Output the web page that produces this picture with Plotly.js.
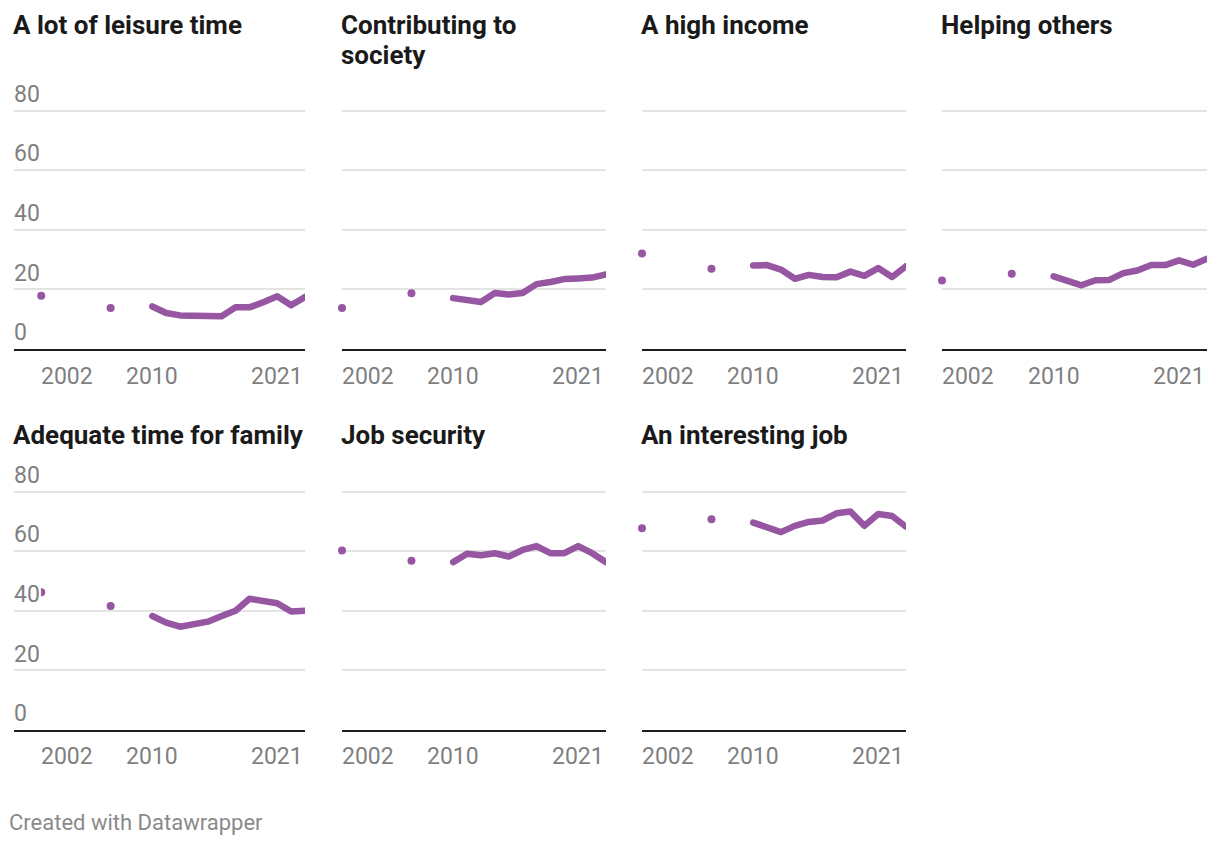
<!DOCTYPE html>
<html><head><meta charset="utf-8">
<script src="https://cdn.plot.ly/plotly-3.0.1.min.js"></script>
<style>
html,body{margin:0;padding:0;background:#fff}
#chart{width:1220px;height:846px}
.js-line{stroke-linecap:round!important;stroke-linejoin:round!important}
</style>
</head><body><div id="chart"></div>
<script>
// ---- data ----
const titles = ["A lot of leisure time", "Contributing to<br>society", "A high income", "Helping others",
                "Adequate time for family", "Job security", "An interesting job"];
const dotYears = [2002, 2007];
const lineYears = [2010, 2011, 2012, 2013, 2014, 2015, 2016, 2017, 2018, 2019, 2020, 2021];
const leisureDots = [17.9, 13.8];
const leisureLine = [14.3, 12.1, 11.3, 11.3, 11.0, 11.0, 14.0, 14.0, 15.7, 17.7, 14.7, 17.5];
const societyDots = [13.8, 18.7];
const societyLine = [17.1, 16.6, 15.8, 18.8, 18.3, 18.8, 21.8, 22.5, 23.5, 23.7, 24.0, 25.1];
const incomeDots = [32.1, 27.0];
const incomeLine = [28.1, 28.2, 26.7, 23.6, 24.9, 24.2, 24.1, 26.0, 24.6, 27.2, 24.2, 27.8];
const helpingDots = [23.0, 25.3];
const helpingLine = [24.4, 22.7, 21.4, 23.1, 23.2, 25.5, 26.4, 28.2, 28.2, 29.8, 28.3, 30.3];
const familyDots = [46.3, 41.7];
const familyLine = [38.3, 36.1, 34.7, 35.3, 36.4, 38.3, 40.1, 44.1, 43.5, 42.6, 39.8, 40.1];
const securityDots = [60.3, 56.9];
const securityLine = [56.4, 59.2, 58.7, 59.4, 58.3, 60.5, 61.8, 59.4, 59.4, 61.8, 59.4, 56.4];
const interestingDots = [67.8, 70.8];
const interestingLine = [69.7, 68.1, 66.5, 68.6, 69.9, 70.4, 72.8, 73.4, 68.6, 72.6, 71.9, 68.3];
const xTickVals = [2002, 2010, 2021];
const xTickText = ["2002", "2010", "2021"];
const yTickVals = [0, 20, 40, 60, 80];
const yTickText = ["0", "20", "40", "60", "80"];
const footer = "Created with Datawrapper";

const dotSeries = [leisureDots, societyDots, incomeDots, helpingDots, familyDots, securityDots, interestingDots];
const lineSeries = [leisureLine, societyLine, incomeLine, helpingLine, familyLine, securityLine, interestingLine];

// ---- layout ----
const W = 1220, H = 846;
const PURPLE = "#9656a1";
const colPx = [[14, 305], [342, 606], [642, 906], [942, 1207]];
const YMAX = 94;
const PXU = 2.976;              // pixels per unit on the value axis
const rowBottom = [349, 730];
const titleTop = [8, 418];
const titleLineGap = 30;
const labelShift = [-28, -27];
const FONT = "Roboto, 'Noto Sans', sans-serif";
const HALO = "-2px -2px 0 #fff, 2px -2px 0 #fff, -2px 2px 0 #fff, 2px 2px 0 #fff, 0 2px 0 #fff, 0 -2px 0 #fff, 2px 0 0 #fff, -2px 0 0 #fff";

const traces = [];
const layout = {
  width: W, height: H,
  margin: {l: 0, r: 0, t: 0, b: 0},
  paper_bgcolor: "#fff", plot_bgcolor: "rgba(0,0,0,0)",
  showlegend: false,
  font: {family: FONT},
  annotations: []
};

titles.forEach((t, i) => {
  const n = i + 1;
  const row = i < 4 ? 0 : 1;
  const col = i < 4 ? i : i - 4;
  const xa = "x" + n, ya = "y" + n;
  const [x0, x1] = colPx[col];
  const yb = rowBottom[row], yt = yb - YMAX * PXU;
  layout["xaxis" + n] = {
    domain: [x0 / W, x1 / W],
    range: col === 0 ? [2000.04, 2021] : [2002, 2021],
    anchor: ya, showgrid: false, zeroline: false,
    showline: true, linecolor: "#1d1d1d", linewidth: 2,
    ticks: "", showticklabels: false, fixedrange: true
  };
  layout["yaxis" + n] = {
    domain: [1 - yb / H, 1 - yt / H],
    range: [0, YMAX], anchor: xa,
    tickmode: "array", tickvals: yTickVals, ticktext: yTickText,
    showgrid: true, gridcolor: "#e3e3e3", gridwidth: 2,
    zeroline: false, showline: false, ticks: "",
    showticklabels: col === 0,
    ticklabelposition: "inside", ticklabelshift: -17, ticklabelstandoff: -3,
    tickfont: {family: FONT, size: 23, color: "#7f7f7f", shadow: HALO},
    fixedrange: true
  };
  traces.push({
    type: "scatter", mode: "lines", x: lineYears, y: lineSeries[i],
    xaxis: xa, yaxis: ya, line: {color: PURPLE, width: 6.5}, hoverinfo: "skip"
  });
  traces.push({
    type: "scatter", mode: "markers", x: dotYears, y: dotSeries[i],
    xaxis: xa, yaxis: ya, marker: {color: PURPLE, size: 8}, cliponaxis: false, hoverinfo: "skip"
  });
  // panel title (lines stacked with Datawrapper-like line spacing)
  t.split("<br>").forEach((ln, k) => {
    layout.annotations.push({
      text: "<b>" + ln + "</b>", xref: "paper", yref: "paper",
      x: (x0 - 3) / W, y: 1 - (titleTop[row] + k * titleLineGap) / H, xanchor: "left", yanchor: "top",
      align: "left", showarrow: false,
      font: {family: FONT, size: 26, color: "#1a1a1a"}
    });
  });
  // x tick labels (first left-aligned, last right-aligned)
  xTickVals.forEach((v, k) => {
    const last = k === xTickVals.length - 1;
    layout.annotations.push({
      text: xTickText[k], xref: xa, yref: ya, x: v, y: 0,
      xanchor: k === 0 ? "left" : (last ? "right" : "center"),
      xshift: k === 0 ? -2 : 0,
      yanchor: "middle", yshift: labelShift[row], showarrow: false,
      font: {family: FONT, size: 23, color: "#7f7f7f"}
    });
  });
});

layout.annotations.push({
  text: footer, xref: "paper", yref: "paper", x: 7 / W, y: 1 - 822 / H,
  xanchor: "left", yanchor: "middle", showarrow: false,
  font: {family: FONT, size: 22, color: "#8a8a8a"}
});

Plotly.newPlot("chart", traces, layout, {displayModeBar: false, staticPlot: true});
</script>
</body></html>
